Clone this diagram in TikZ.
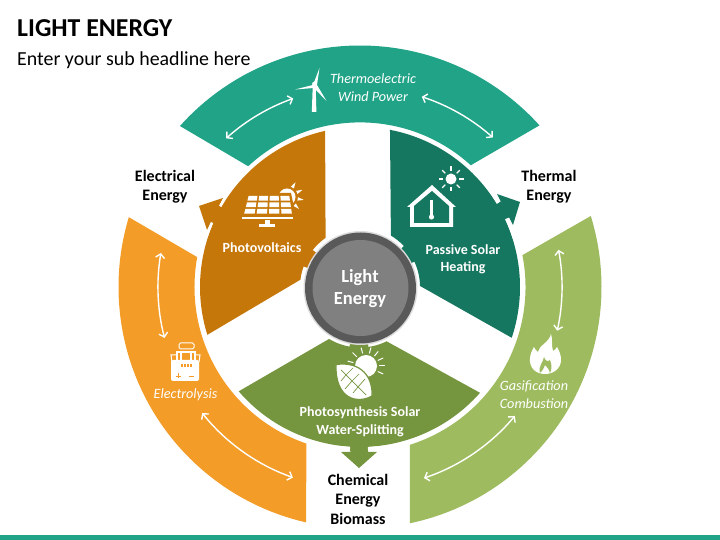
\documentclass[tikz,border=0pt]{standalone}
\usepackage{fontspec}
\setmainfont{Carlito}
\usetikzlibrary{arrows.meta,calc}
\definecolor{ringteal}{HTML}{20A386}
\definecolor{ringorange}{HTML}{F39C27}
\definecolor{ringgreen}{HTML}{9EBC5F}
\definecolor{wedgebrown}{HTML}{C6770A}
\definecolor{wedgeteal}{HTML}{167760}
\definecolor{wedgegreen}{HTML}{76953F}
\tikzset{
  headline/.style={inner sep=0pt,anchor=west,text=black},
  energylabel/.style={inner sep=0pt,align=center,text=black,font=\bfseries\fontsize{16}{19.5}\selectfont},
  wedgelabel/.style={inner sep=0pt,align=center,text=white,font=\bfseries\fontsize{14}{17.5}\selectfont},
  ringlabel/.style={inner sep=0pt,align=center,text=white,font=\itshape\fontsize{14.2}{17.5}\selectfont},
  swing/.style={white,line width=1.4pt,<->,>={Straight Barb[length=4pt,width=9pt]}},
}
\begin{document}
\begin{tikzpicture}[x=1pt,y=1pt]
  \useasboundingbox (0,0) rectangle (720,540);
  \coordinate (c) at (360,253);
  \fill[ringteal] (0,0) rectangle (720,5);
  % rings and wedges
  \foreach \col/\ra/\sa/\ea/\rb/\sb/\eb in {
      ringteal/241.5/138.2/42/164.6/47.7/132.8,
      ringorange/241.5/163.2/257.1/165.5/251.1/169.6,
      ringgreen/241.5/17.1/-78.1/165.5/-72.5/11.1,
      wedgebrown/160/102.6/197.4/60/173/125,
      wedgeteal/160/79.2/-18.5/60/1/59,
      wedgegreen/160/220.7/318.6/60.5/296.1/239.2,
      wedgebrown/52/142/160/61/160/142,
      wedgeteal/52/25/43/61/43/25,
      wedgegreen/52/260/278/61/278/260,
      wedgebrown/158/150/156.5/165/156.5/150,
      wedgeteal/158/25/31.3/165/31.3/25,
      wedgegreen/158/266.5/272.8/165/272.8/266.5}
    \fill[\col] ($(c)+(\sa:\ra)$) arc[start angle=\sa,end angle=\ea,radius=\ra]
      -- ($(c)+(\sb:\rb)$) arc[start angle=\sb,end angle=\eb,radius=\rb] -- cycle;
  % arrow heads
  \fill[wedgebrown] (199,334) -- (223,342) -- (207,310) -- cycle;
  \fill[wedgeteal] (520,338) -- (497,346) -- (513,315) -- cycle;
  \fill[wedgegreen] (359,72) -- (341,88) -- (377,88) -- cycle;
  \foreach \sa/\ea in {147/150,156.5/162.2,17.5/25,31.3/34.3,263.6/266.5,272.8/276}
    \draw[white,line width=2.2pt] ($(c)+(\sa:161.5)$) arc[start angle=\sa,end angle=\ea,radius=161.5];
  % double arrows on the rings
  \foreach \sa/\ea/\r in {132/109.5/200,72/48.4/200,170.3/194.6/202,218.6/250.6/202,10.6/-12.5/202,-39.8/-71.5/201.5}
    \draw[swing] ($(c)+(\sa:\r)$) arc[start angle=\sa,end angle=\ea,radius=\r];
  % centre
  \fill[black!14] (360.5,252) circle (57);
  \fill[black!65] (360.5,252) circle (55.5);
  \fill[black!50] (360.5,252) circle (48);
  \node[inner sep=0pt,align=center,text=white,font=\bfseries\fontsize{18.5}{22}\selectfont] (centre) at (360,251.5) {Light\\Energy};
  % icons, in the coordinates of the screen
  \begin{scope}[shift={(0,540)},yscale=-1]
    % wind turbine
    \fill[white] (312.8,84) -- (315.6,84) -- (316.4,112) -- (311.8,112) -- cycle;
    \fill[white] (313,85) -- (319.5,68) -- (317,85) -- (326.5,101) -- (314,88) -- (295,89.5) -- cycle;
    \fill[white] (314.5,84) circle (2.4);
    % solar panel
    \fill[white] (287,197) circle (8.5);
    \foreach \a in {-60,-25,10,45,90,125,160}
      \fill[white] ($(287,197)+(\a-9:11)$) -- ($(287,197)+(\a:17)$) -- ($(287,197)+(\a+9:11)$) -- cycle;
    \fill[wedgebrown] (246,193) -- (291,193) -- (296,217) -- (240,217) -- cycle;
    \foreach \i in {0,1,2,3}
      \foreach \j in {0,1,2} {
        \pgfmathsetmacro{\ua}{\i/4+0.02}
        \pgfmathsetmacro{\ub}{(\i+1)/4-0.02}
        \pgfmathsetmacro{\va}{\j/3+0.05}
        \pgfmathsetmacro{\vb}{(\j+1)/3-0.05}
        \fill[white] ({248-5*\va+(42+8*\va)*\ua},{195+19.5*\va}) -- ({248-5*\va+(42+8*\va)*\ub},{195+19.5*\va})
          -- ({248-5*\vb+(42+8*\vb)*\ub},{195+19.5*\vb}) -- ({248-5*\vb+(42+8*\vb)*\ua},{195+19.5*\vb}) -- cycle;
      }
    \fill[white] (242,217) rectangle (293,219);
    \fill[white] (265,220) rectangle (270,224);
    \fill[white] (259,224) rectangle (275,227);
    % house
    \fill[white] (407,207) -- (432,185) -- (456,207) -- (453,207) -- (453,227) -- (410,227) -- (410,207) -- cycle;
    \fill[wedgeteal] (414,206) -- (432,191) -- (449,206) -- (449,223) -- (414,223) -- cycle;
    \draw[white,line width=2.2pt] (431.5,200) -- (431.5,216);
    \fill[white] (431.5,217) circle (2.6);
    \fill[white] (451,179) circle (5.5);
    \foreach \a in {0,45,...,315}
      \draw[white,line width=1.1pt] ($(451,179)+(\a:8)$) -- ($(451,179)+(\a:12.5)$);
    % leaf and sun
    \fill[white] (366,366) circle (11);
    \foreach \a in {-165,-135,-105,-75,-50,-25,0,25}
      \draw[white,line width=1pt] ($(366,366)+(\a:13)$) -- ($(366,366)+(\a:19)$);
    \filldraw[white,draw=wedgegreen,line width=1.2pt] (336,364.5) .. controls (362,361) and (373,378) .. (372,396)
      .. controls (358,404) and (335,400) .. cycle;
    \draw[wedgegreen,line width=0.7pt] (341,370) -- (366,395)
      (346,375) -- (341,381) (346,375) -- (353,368) (352,381) -- (345,389) (352,381) -- (359,374) (358,387) -- (353,393) (358,387) -- (365,379);
    % battery
    \draw[white,line width=1pt,rounded corners=1.5pt] (179,343) rectangle (194,349);
    \draw[white,line width=1.3pt] (177,362) -- (177,352) -- (195,352) -- (195,362);
    \draw[white,line width=1.3pt] (181,352) -- (181,362) (191,352) -- (191,362);
    \draw[white,line width=1pt] (177,355) -- (171,355) -- (172,362) (195,355) -- (200,355) -- (199,362);
    \fill[white,rounded corners=2pt] (171,360) rectangle (199,381);
    \foreach \x in {181,184,187,190}
      \fill[ringorange] (\x,364) rectangle ++(1.6,3);
    \draw[ringorange,line width=0.9pt] (175.5,376) -- (180.5,376) (178,373.5) -- (178,378.5) (189,376) -- (194,376);
    % flame
    \fill[white] (545,374) .. controls (535,374) and (529,367) .. (530,358) .. controls (530.5,353) and (532,351) .. (534,347)
      .. controls (535,349) and (536,351) .. (538,352) .. controls (539,345) and (549,343) .. (551,334)
      .. controls (553,340) and (551,345) .. (553,351) .. controls (555,350) and (556,349) .. (557,347)
      .. controls (560,352) and (561,356) .. (561,360) .. controls (561,368) and (554,374) .. (545,374) -- cycle;
    \fill[ringgreen] (540,373) .. controls (538,366) and (543,363) .. (544,357) .. controls (545,361) and (548,362) .. (550,360)
      .. controls (552,365) and (552,369) .. (550,373) .. controls (549,369) and (547,367) .. (545,365) .. controls (544,368) and (543,370) .. (540,373) -- cycle;
  \end{scope}
  % texts
  \node[headline,font=\bfseries\fontsize{25.8}{26}\selectfont] (title) at (17,511.5) {LIGHT ENERGY};
  \node[headline,font=\fontsize{19.9}{21}\selectfont] (subtitle) at (17,480) {Enter your sub headline here};
  \node[energylabel] (electrical) at (165,353.5) {Electrical\\Energy};
  \node[energylabel] (thermal) at (549,353.5) {Thermal\\Energy};
  \node[energylabel] (chemical) at (358,41) {Chemical\\Energy\\Biomass};
  \node[wedgelabel] (photovoltaics) at (262,292) {Photovoltaics};
  \node[wedgelabel] (passive) at (463,280.5) {Passive Solar\\Heating};
  \node[wedgelabel] (photosynthesis) at (360,118) {Photosynthesis Solar\\Water-Splitting};
  \node[ringlabel] (thermoelectric) at (373,452.5) {Thermoelectric\\Wind Power};
  \node[ringlabel] (electrolysis) at (185.5,145) {Electrolysis};
  \node[ringlabel] (gasification) at (534,145.5) {Gasification\\Combustion};
\end{tikzpicture}
\end{document}
